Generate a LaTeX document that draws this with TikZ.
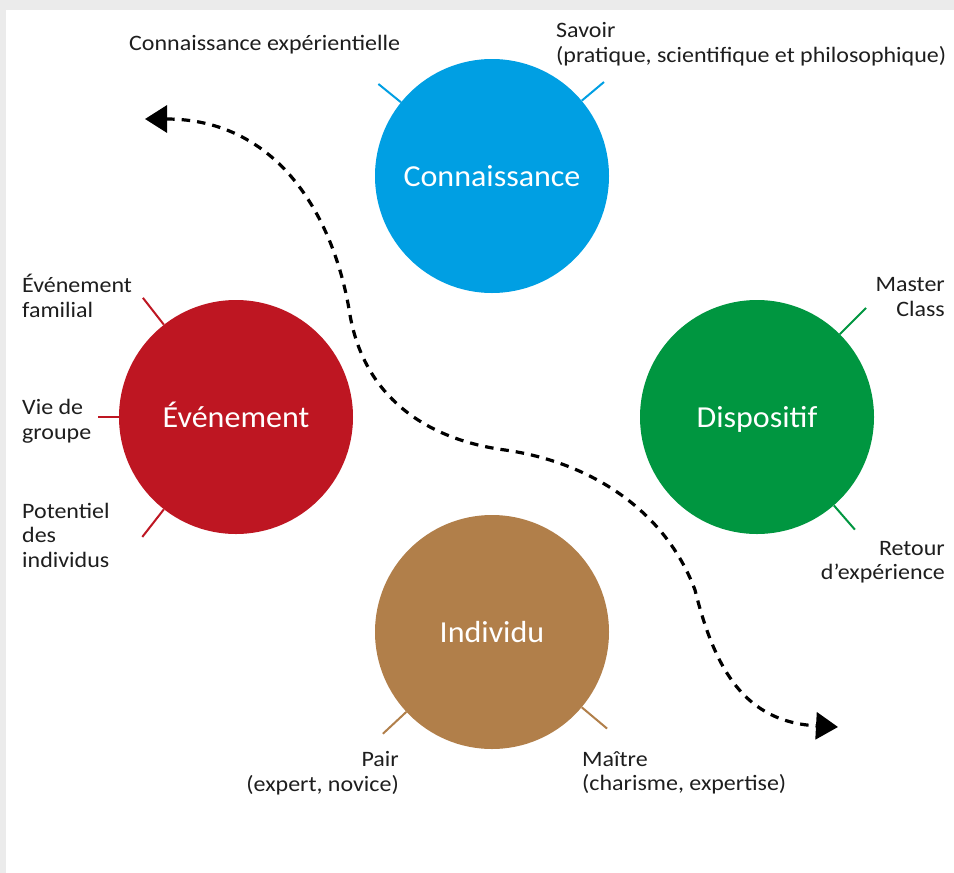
\documentclass[tikz,border=0pt]{standalone}
\usepackage{fontspec}
\setmainfont{Carlito}
\newfontfamily\lblfont[FakeStretch=1.09]{Carlito}
\newfontfamily\bubfont[FakeStretch=1.05]{Carlito}
\usetikzlibrary{arrows.meta}
\definecolor{cblue}{HTML}{009FE3}
\definecolor{cred}{HTML}{BE1622}
\definecolor{cgreen}{HTML}{009640}
\definecolor{cbrown}{HTML}{B17F4A}
\definecolor{bggrey}{HTML}{EBEBEB}
\definecolor{txt}{HTML}{1E1E1E}
\begin{document}
\begin{tikzpicture}[x=1pt,y=-1pt,
 bubble/.style={circle,minimum size=234pt,inner sep=0pt,text=white,text height=24pt,text depth=4pt,font=\bubfont\fontsize{30.5}{36}\selectfont},
 tick/.style={line width=2pt},
 lbl/.style={inner sep=0pt,text=txt,font=\lblfont\fontsize{22}{24.5}\selectfont},
 flow/.style={line width=3.2pt,dash pattern=on 8.5pt off 7pt,{Triangle[length=22pt,width=27pt]}-{Triangle[length=22pt,width=27pt]}}]
\fill[bggrey] (0,0) rectangle (954,873);
\fill[white] (6,10) rectangle (954,873);
\useasboundingbox (0,0) rectangle (954,873);
\node[bubble,fill=cblue] (conn) at (492,176) {Connaissance};
\node[bubble,fill=cred] (even) at (236,417) {Événement};
\node[bubble,fill=cgreen] (disp) at (757,417) {Dispositif};
\node[bubble,fill=cbrown] (indiv) at (492,632) {Individu};
\draw[tick,cblue] (conn.141) -- ++(141:29pt);
\draw[tick,cblue] (conn.40) -- ++(40:29pt);
\draw[tick,cred] (even.128) -- ++(128:34pt);
\draw[tick,cred] (even.180) -- ++(180:21pt);
\draw[tick,cred] (even.232) -- ++(232:35pt);
\draw[tick,cgreen] (disp.45) -- ++(45:37pt);
\draw[tick,cgreen] (disp.-49) -- ++(-49:32pt);
\draw[tick,cbrown] (indiv.223) -- ++(223:32pt);
\draw[tick,cbrown] (indiv.-40) -- ++(-40:33pt);
\coordinate (fstart) at (145,119);
\coordinate (fend) at (838,727);
\draw[flow] (fstart) .. controls (280,119) and (335,220) .. (350,315) .. controls (365,400) and (430,440) .. (505,450) .. controls (590,462) and (665,510) .. (695,590) .. controls (715,670) and (745,722) .. (fend);
\node[lbl,anchor=west] (l1) at (129,45) {Connaissance expérientielle};
\node[lbl,anchor=west,align=left] (l2) at (556,44) {Savoir\\(pratique, scientifique et philosophique)};
\node[lbl,anchor=west,align=left] (l3) at (22,296) {Événement\\familial};
\node[lbl,anchor=west,align=left] (l4) at (22,421) {Vie de\\groupe};
\node[lbl,anchor=west,align=left] (l5) at (22,535) {Potentiel\\des\\individus};
\node[lbl,anchor=east,align=right] (l6) at (945,297) {Master\\Class};
\node[lbl,anchor=east,align=right] (l7) at (945,562) {Retour\\d’expérience};
\node[lbl,anchor=east,align=right] (l8) at (399,773) {Pair\\(expert, novice)};
\node[lbl,anchor=west,align=left] (l9) at (582,773) {Maître\\(charisme, expertise)};
\end{tikzpicture}
\end{document}
